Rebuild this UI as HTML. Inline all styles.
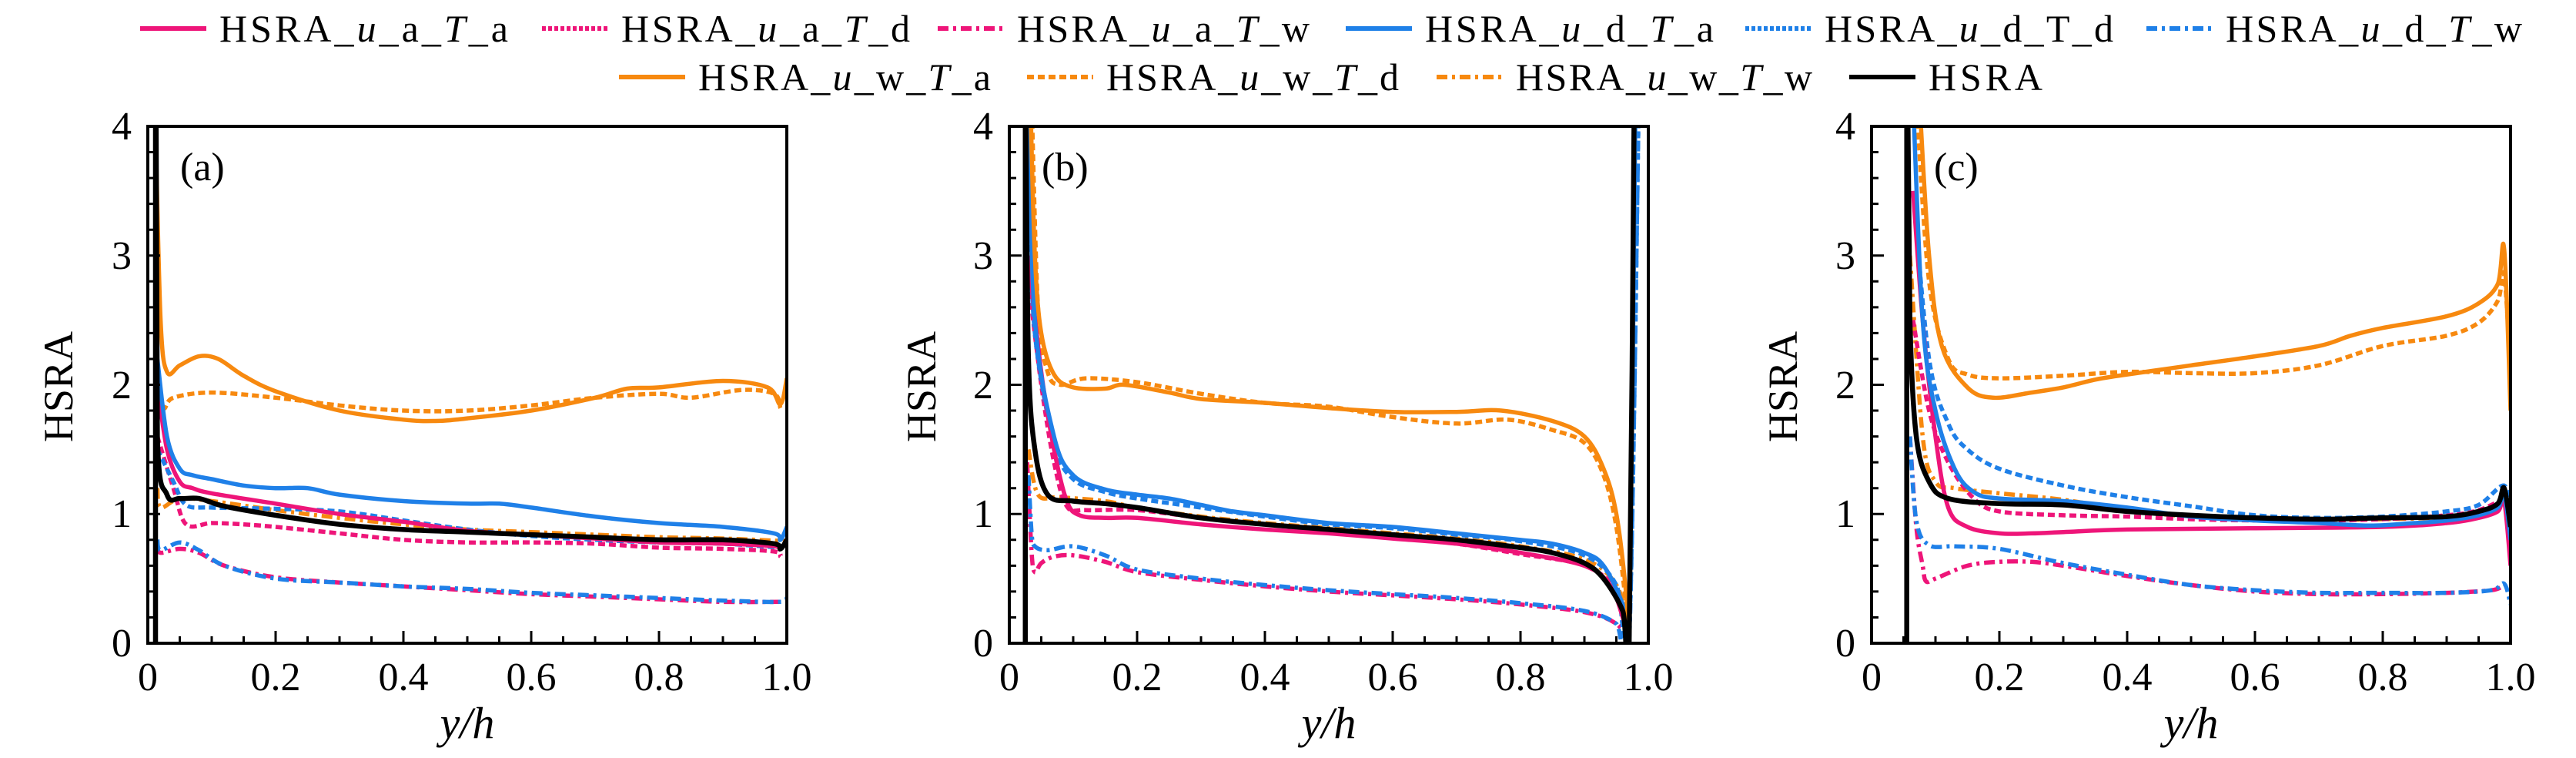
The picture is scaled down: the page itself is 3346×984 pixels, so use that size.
<!DOCTYPE html>
<html><head><meta charset="utf-8"><style>
html,body{margin:0;padding:0;background:#fff;}
svg{display:block;font-family:"Liberation Serif",serif;}
text{font-family:"Liberation Serif",serif;}
</style></head><body>
<svg id="s" width="3346" height="984" viewBox="0 0 3346 984" xmlns="http://www.w3.org/2000/svg">
<defs>
<clipPath id="ca"><rect x="192" y="164" width="830" height="671"/></clipPath>
<clipPath id="cb"><rect x="1311" y="164" width="830" height="671"/></clipPath>
<clipPath id="cc"><rect x="2431" y="164" width="830" height="671"/></clipPath>
</defs>
<g id="curves"></g>
<g id="axes"></g>
<g font-size="50" fill="#000">
<line x1="182" y1="37" x2="268" y2="37" stroke="#ee1579" stroke-width="6"/>
<text x="285" y="54" textLength="375">HSRA_<tspan font-style="italic">u</tspan>_a_<tspan font-style="italic">T</tspan>_a</text>
<line x1="704" y1="37" x2="790" y2="37" stroke="#ee1579" stroke-width="6" stroke-dasharray="5 3"/>
<text x="807" y="54" textLength="375">HSRA_<tspan font-style="italic">u</tspan>_a_<tspan font-style="italic">T</tspan>_d</text>
<line x1="1218" y1="37" x2="1304" y2="37" stroke="#ee1579" stroke-width="6" stroke-dasharray="14 6 4 6"/>
<text x="1321" y="54" textLength="380">HSRA_<tspan font-style="italic">u</tspan>_a_<tspan font-style="italic">T</tspan>_w</text>
<line x1="1748" y1="37" x2="1834" y2="37" stroke="#1f80e8" stroke-width="6"/>
<text x="1851" y="54" textLength="375">HSRA_<tspan font-style="italic">u</tspan>_d_<tspan font-style="italic">T</tspan>_a</text>
<line x1="2267" y1="37" x2="2353" y2="37" stroke="#1f80e8" stroke-width="6" stroke-dasharray="5 3"/>
<text x="2370" y="54" textLength="375">HSRA_<tspan font-style="italic">u</tspan>_d_T_d</text>
<line x1="2788" y1="37" x2="2874" y2="37" stroke="#1f80e8" stroke-width="6" stroke-dasharray="14 6 4 6"/>
<text x="2891" y="54" textLength="385">HSRA_<tspan font-style="italic">u</tspan>_d_<tspan font-style="italic">T</tspan>_w</text>
<line x1="804" y1="100" x2="890" y2="100" stroke="#f7890f" stroke-width="6"/>
<text x="907" y="117" textLength="380">HSRA_<tspan font-style="italic">u</tspan>_w_<tspan font-style="italic">T</tspan>_a</text>
<line x1="1334" y1="100" x2="1420" y2="100" stroke="#f7890f" stroke-width="6" stroke-dasharray="9 5"/>
<text x="1437" y="117" textLength="380">HSRA_<tspan font-style="italic">u</tspan>_w_<tspan font-style="italic">T</tspan>_d</text>
<line x1="1866" y1="100" x2="1952" y2="100" stroke="#f7890f" stroke-width="6" stroke-dasharray="14 6 4 6"/>
<text x="1969" y="117" textLength="385">HSRA_<tspan font-style="italic">u</tspan>_w_<tspan font-style="italic">T</tspan>_w</text>
<line x1="2402" y1="100" x2="2488" y2="100" stroke="#000" stroke-width="6"/>
<text x="2505" y="117" textLength="148">HSRA</text>

<text x="234" y="234" font-size="52">(a)</text>
<text x="1353" y="234" font-size="52">(b)</text>
<text x="2512" y="234" font-size="52">(c)</text>

<text transform="translate(94,502) rotate(-90)" text-anchor="middle" font-size="54">HSRA</text>
<text transform="translate(1215,502) rotate(-90)" text-anchor="middle" font-size="54">HSRA</text>
<text transform="translate(2334,502) rotate(-90)" text-anchor="middle" font-size="54">HSRA</text>

<text x="607" y="958" text-anchor="middle" font-style="italic" font-size="58">y/h</text>
<text x="1726" y="958" text-anchor="middle" font-style="italic" font-size="58">y/h</text>
<text x="2846" y="958" text-anchor="middle" font-style="italic" font-size="58">y/h</text>

<g text-anchor="end" font-size="52">
<text x="171" y="852">0</text><text x="171" y="684">1</text><text x="171" y="517">2</text><text x="171" y="349">3</text><text x="171" y="181">4</text>
<text x="1290" y="852">0</text><text x="1290" y="684">1</text><text x="1290" y="517">2</text><text x="1290" y="349">3</text><text x="1290" y="181">4</text>
<text x="2410" y="852">0</text><text x="2410" y="684">1</text><text x="2410" y="517">2</text><text x="2410" y="349">3</text><text x="2410" y="181">4</text>
</g>
<g text-anchor="middle" font-size="52">
<text x="192" y="896">0</text><text x="358" y="896">0.2</text><text x="524" y="896">0.4</text><text x="690" y="896">0.6</text><text x="856" y="896">0.8</text><text x="1022" y="896">1.0</text>
<text x="1311" y="896">0</text><text x="1477" y="896">0.2</text><text x="1643" y="896">0.4</text><text x="1809" y="896">0.6</text><text x="1975" y="896">0.8</text><text x="2141" y="896">1.0</text>
<text x="2431" y="896">0</text><text x="2597" y="896">0.2</text><text x="2763" y="896">0.4</text><text x="2929" y="896">0.6</text><text x="3095" y="896">0.8</text><text x="3261" y="896">1.0</text>
</g>
</g>
</svg>
<script>
(function(){
var NS="http://www.w3.org/2000/svg";
var P=[{x:192,c:"ca"},{x:1311,c:"cb"},{x:2431,c:"cc"}];
var W=830,T=164,B=835,H=671;
var PK="#ee1579",BL="#1f80e8",OR="#f7890f",BK="#000";
var SOL="",DSH="9 5",DD="14 6 4 6";
function mk(t,a,par){var e=document.createElementNS(NS,t);for(var k in a)e.setAttribute(k,a[k]);par.appendChild(e);return e;}
var data=[
[
[PK,DD,[[0.015,0.75],[0.02,0.7],[0.05,0.73],[0.08,0.7],[0.12,0.6],[0.2,0.51],[0.3,0.47],[0.4,0.44],[0.5,0.41],[0.6,0.38],[0.7,0.36],[0.8,0.34],[0.9,0.32],[0.99,0.32]]],
[BL,DD,[[0.015,0.8],[0.02,0.72],[0.05,0.78],[0.08,0.72],[0.12,0.6],[0.2,0.5],[0.3,0.47],[0.4,0.44],[0.5,0.42],[0.6,0.39],[0.7,0.37],[0.8,0.35],[0.9,0.33],[0.99,0.32],[1.0,0.35]]],
[OR,DD,[[0.015,1.2],[0.02,1.05],[0.05,1.12],[0.1,1.1],[0.2,1.03],[0.3,0.97],[0.4,0.92],[0.5,0.88],[0.6,0.86],[0.7,0.84],[0.8,0.82],[0.9,0.81],[1.0,0.79]]],
[PK,DSH,[[0.015,1.6],[0.04,1.2],[0.06,0.92],[0.1,0.93],[0.15,0.92],[0.2,0.9],[0.3,0.85],[0.4,0.8],[0.5,0.78],[0.6,0.78],[0.7,0.77],[0.8,0.74],[0.9,0.73],[0.98,0.71],[0.99,0.67]]],
[BL,DSH,[[0.015,1.5],[0.04,1.25],[0.06,1.07],[0.1,1.05],[0.2,1.04],[0.3,1.02],[0.4,0.95],[0.5,0.88],[0.6,0.83],[0.7,0.8],[0.8,0.78],[0.9,0.77],[0.99,0.74]]],
[OR,DSH,[[0.015,2.0],[0.025,1.82],[0.04,1.9],[0.1,1.94],[0.2,1.9],[0.3,1.84],[0.4,1.8],[0.5,1.8],[0.6,1.84],[0.7,1.9],[0.8,1.93],[0.85,1.9],[0.93,1.96],[0.98,1.93],[0.99,1.82]]],
[PK,SOL,[[0.015,2.0],[0.03,1.5],[0.05,1.25],[0.07,1.2],[0.1,1.16],[0.2,1.08],[0.3,1.0],[0.4,0.94],[0.5,0.87],[0.6,0.84],[0.7,0.81],[0.8,0.78],[0.9,0.77],[0.98,0.75],[0.99,0.72]]],
[BL,SOL,[[0.015,2.2],[0.03,1.6],[0.05,1.35],[0.07,1.3],[0.1,1.27],[0.15,1.22],[0.2,1.2],[0.25,1.2],[0.3,1.15],[0.4,1.1],[0.5,1.08],[0.55,1.08],[0.6,1.05],[0.7,0.98],[0.8,0.93],[0.9,0.9],[0.98,0.85],[0.99,0.8],[1.0,0.9]]],
[OR,SOL,[[0.012,4],[0.02,2.5],[0.03,2.1],[0.05,2.15],[0.08,2.22],[0.11,2.2],[0.15,2.07],[0.2,1.95],[0.3,1.8],[0.4,1.73],[0.45,1.72],[0.5,1.74],[0.6,1.8],[0.7,1.9],[0.75,1.97],[0.8,1.98],[0.9,2.03],[0.97,1.98],[0.99,1.85],[1.0,2.05]]],
[BK,SOL,[[0.012,0],[0.012,4.2],[0.013,4],[0.015,1.6],[0.03,1.15],[0.05,1.12],[0.08,1.12],[0.12,1.06],[0.2,0.99],[0.3,0.92],[0.4,0.88],[0.5,0.86],[0.6,0.84],[0.7,0.82],[0.8,0.8],[0.9,0.8],[0.98,0.77],[0.99,0.73],[1.0,0.8]]]
],
[
[PK,DD,[[0.028,1.4],[0.035,0.7],[0.04,0.55],[0.05,0.62],[0.07,0.67],[0.1,0.68],[0.15,0.63],[0.2,0.55],[0.3,0.49],[0.4,0.44],[0.5,0.4],[0.6,0.37],[0.7,0.34],[0.8,0.3],[0.9,0.24],[0.95,0.15],[0.97,0]]],
[BL,DD,[[0.03,1.3],[0.035,0.85],[0.04,0.75],[0.06,0.72],[0.1,0.75],[0.15,0.68],[0.2,0.57],[0.3,0.5],[0.4,0.45],[0.5,0.41],[0.6,0.38],[0.7,0.35],[0.8,0.31],[0.9,0.25],[0.95,0.15],[0.97,0],[0.985,4.2]]],
[OR,DD,[[0.03,1.5],[0.045,1.15],[0.08,1.13],[0.15,1.1],[0.2,1.05],[0.3,0.98],[0.4,0.93],[0.5,0.89],[0.6,0.85],[0.7,0.81],[0.8,0.75],[0.9,0.65],[0.95,0.45],[0.97,0.1]]],
[PK,DSH,[[0.03,2.8],[0.05,2.0],[0.07,1.4],[0.09,1.06],[0.12,1.03],[0.2,1.03],[0.3,0.97],[0.4,0.92],[0.5,0.88],[0.6,0.82],[0.7,0.77],[0.8,0.69],[0.9,0.6],[0.95,0.4],[0.97,0]]],
[BL,DSH,[[0.03,3.5],[0.04,2.4],[0.07,1.55],[0.1,1.27],[0.15,1.17],[0.2,1.12],[0.3,1.05],[0.4,0.98],[0.5,0.92],[0.6,0.89],[0.7,0.84],[0.8,0.79],[0.9,0.68],[0.95,0.45],[0.97,0.05],[0.985,4.2]]],
[OR,DSH,[[0.035,4.2],[0.045,2.6],[0.06,2.1],[0.08,2.0],[0.12,2.05],[0.2,2.02],[0.3,1.93],[0.4,1.86],[0.5,1.83],[0.6,1.75],[0.7,1.7],[0.78,1.73],[0.85,1.65],[0.9,1.55],[0.93,1.3],[0.95,0.9],[0.965,0.3],[0.97,0]]],
[PK,SOL,[[0.03,3],[0.05,2.1],[0.07,1.5],[0.09,1.1],[0.11,0.99],[0.15,0.97],[0.2,0.97],[0.3,0.92],[0.4,0.88],[0.5,0.85],[0.6,0.81],[0.7,0.77],[0.8,0.7],[0.9,0.6],[0.94,0.45],[0.96,0.2],[0.97,0]]],
[BL,SOL,[[0.03,4.2],[0.04,2.5],[0.07,1.6],[0.1,1.3],[0.15,1.19],[0.2,1.15],[0.25,1.12],[0.3,1.07],[0.35,1.02],[0.4,0.99],[0.5,0.93],[0.6,0.9],[0.7,0.85],[0.8,0.8],[0.85,0.77],[0.9,0.7],[0.93,0.6],[0.96,0.3],[0.97,0.05],[0.98,4.2]]],
[OR,SOL,[[0.033,4.2],[0.04,3],[0.05,2.4],[0.07,2.08],[0.1,1.98],[0.15,1.97],[0.18,2.0],[0.25,1.94],[0.3,1.89],[0.4,1.86],[0.5,1.82],[0.6,1.79],[0.7,1.79],[0.77,1.8],[0.85,1.72],[0.9,1.6],[0.93,1.35],[0.95,1.0],[0.965,0.4],[0.97,0]]],
[BK,SOL,[[0.025,0],[0.025,4.2],[0.026,4],[0.03,2.2],[0.04,1.5],[0.06,1.15],[0.1,1.1],[0.15,1.08],[0.2,1.05],[0.3,0.97],[0.4,0.92],[0.5,0.88],[0.6,0.84],[0.7,0.8],[0.8,0.74],[0.85,0.7],[0.9,0.62],[0.93,0.5],[0.96,0.25],[0.97,0],[0.978,4.2]]]
],
[
[PK,DD,[[0.06,1.6],[0.07,0.9],[0.08,0.6],[0.085,0.48],[0.1,0.5],[0.15,0.6],[0.2,0.63],[0.25,0.63],[0.3,0.6],[0.4,0.52],[0.5,0.45],[0.6,0.4],[0.7,0.38],[0.8,0.38],[0.9,0.39],[0.97,0.41],[0.99,0.45]]],
[BL,DD,[[0.06,1.6],[0.07,0.95],[0.09,0.76],[0.13,0.75],[0.2,0.73],[0.3,0.62],[0.4,0.53],[0.5,0.45],[0.6,0.41],[0.7,0.39],[0.8,0.39],[0.9,0.39],[0.97,0.41],[0.99,0.46],[1.0,0.3]]],
[OR,DD,[[0.06,3],[0.08,1.6],[0.1,1.25],[0.13,1.2],[0.2,1.16],[0.3,1.11],[0.4,1.03],[0.5,0.98],[0.6,0.96],[0.8,0.96],[0.95,1.0],[0.99,1.15]]],
[PK,DSH,[[0.065,2.5],[0.09,1.8],[0.12,1.4],[0.16,1.12],[0.2,1.02],[0.3,0.99],[0.4,0.98],[0.5,0.96],[0.6,0.95],[0.7,0.95],[0.8,0.96],[0.9,0.99],[0.95,1.03],[0.99,1.12]]],
[BL,DSH,[[0.065,3.5],[0.09,2.2],[0.12,1.7],[0.15,1.5],[0.2,1.35],[0.3,1.22],[0.4,1.13],[0.5,1.06],[0.6,0.99],[0.7,0.97],[0.8,0.98],[0.9,1.02],[0.95,1.07],[0.99,1.22],[1.0,1.0]]],
[OR,DSH,[[0.07,4.2],[0.09,2.8],[0.12,2.2],[0.15,2.08],[0.2,2.05],[0.3,2.07],[0.4,2.1],[0.5,2.09],[0.6,2.09],[0.7,2.15],[0.8,2.3],[0.9,2.38],[0.95,2.48],[0.98,2.65],[0.99,2.85],[1.0,2.1]]],
[PK,SOL,[[0.065,3.5],[0.08,2.5],[0.1,1.6],[0.12,1.05],[0.15,0.9],[0.2,0.85],[0.25,0.85],[0.3,0.86],[0.4,0.88],[0.6,0.89],[0.8,0.9],[0.9,0.93],[0.95,0.97],[0.98,1.02],[0.99,1.1],[1.0,0.6]]],
[BL,SOL,[[0.065,4.2],[0.08,2.5],[0.1,1.8],[0.13,1.35],[0.16,1.17],[0.2,1.12],[0.3,1.1],[0.4,1.05],[0.5,0.98],[0.6,0.95],[0.7,0.93],[0.78,0.91],[0.85,0.93],[0.9,0.95],[0.95,0.99],[0.98,1.05],[0.99,1.15],[1.0,0.8]]],
[OR,SOL,[[0.075,4.2],[0.09,3],[0.11,2.3],[0.15,1.98],[0.19,1.9],[0.25,1.94],[0.3,1.98],[0.35,2.04],[0.4,2.08],[0.5,2.15],[0.6,2.22],[0.7,2.3],[0.75,2.38],[0.8,2.44],[0.9,2.53],[0.95,2.63],[0.98,2.78],[0.99,3.05],[1.0,1.8]]],
[BK,SOL,[[0.055,0],[0.055,4.2],[0.057,4],[0.06,2.5],[0.07,1.6],[0.09,1.25],[0.12,1.12],[0.2,1.08],[0.3,1.07],[0.4,1.02],[0.5,0.99],[0.6,0.97],[0.7,0.96],[0.8,0.97],[0.9,0.98],[0.95,1.02],[0.98,1.08],[0.99,1.2],[1.0,0.9]]]
]];
function smooth(pts){
  // Catmull-Rom to Bezier
  var d="M"+pts[0][0].toFixed(1)+","+pts[0][1].toFixed(1);
  for(var i=0;i<pts.length-1;i++){
    var p0=pts[i-1]||pts[i],p1=pts[i],p2=pts[i+1],p3=pts[i+2]||p2;
    var dx=p2[0]-p1[0];
    if(Math.abs(dx)<3){d+="L"+p2[0].toFixed(1)+","+p2[1].toFixed(1);continue;}
    var c1=[p1[0]+(p2[0]-p0[0])/6,p1[1]+(p2[1]-p0[1])/6];
    var c2=[p2[0]-(p3[0]-p1[0])/6,p2[1]-(p3[1]-p1[1])/6];
    d+="C"+c1[0].toFixed(1)+","+c1[1].toFixed(1)+" "+c2[0].toFixed(1)+","+c2[1].toFixed(1)+" "+p2[0].toFixed(1)+","+p2[1].toFixed(1);
  }
  return d;
}
var cg=document.getElementById("curves"),ag=document.getElementById("axes");
for(var p=0;p<3;p++){
  var x0=P[p].x,g=mk("g",{"clip-path":"url(#"+P[p].c+")"},cg);
  data[p].forEach(function(s){
    var pts=s[2].map(function(q){return [x0+q[0]*W,B-q[1]*H/4];});
    var a={d:smooth(pts),fill:"none",stroke:s[0],"stroke-width":s[0]==BK?6.5:5.5,"stroke-linejoin":"round"};
    if(s[1])a["stroke-dasharray"]=s[1];
    mk("path",a,g);
  });
  var t="";
  for(var i=0;i<=20;i++){var xx=x0+i*W/20,L=(i%4==0)?16:9;t+="M"+xx+","+B+"v-"+L;}
  for(var j=0;j<=20;j++){var yy=B-j*H/20,L2=(j%5==0)?16:9;t+="M"+x0+","+yy+"h"+L2;}
  mk("path",{d:t,stroke:"#000","stroke-width":3,fill:"none"},ag);
  mk("rect",{x:x0,y:T,width:W,height:H,fill:"none",stroke:"#000","stroke-width":4},ag);
}
})();
</script>
</body></html>
